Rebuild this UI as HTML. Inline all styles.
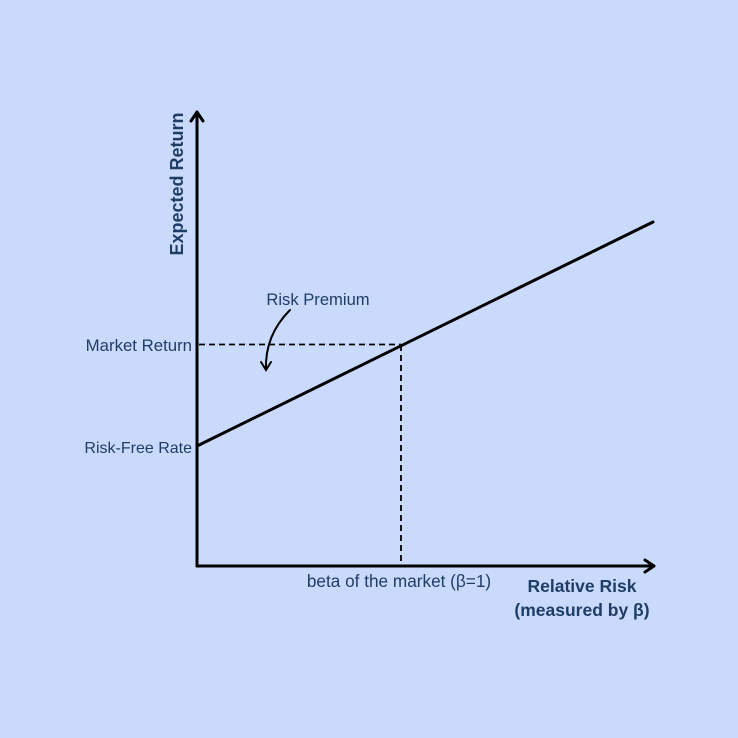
<!DOCTYPE html>
<html><head><style>
body{margin:0;background:#c9dafc;}
svg{display:block}
text{font-family:"Liberation Sans",sans-serif;fill:#1f3d66}
</style></head><body>
<svg width="738" height="738" viewBox="0 0 738 738">
<rect width="738" height="738" fill="#c9dafc"/>
<g stroke="#000" fill="none" stroke-width="3" stroke-linecap="round" stroke-linejoin="round">
<line x1="197" y1="566" x2="197" y2="113"/>
<polyline points="191,121 197,112 203,121"/>
<line x1="197" y1="566" x2="653" y2="566"/>
<polyline points="645,560 654,566 645,572"/>
<line x1="197" y1="446" x2="653" y2="222"/>
</g>
<g stroke="#000" stroke-width="1.8" stroke-dasharray="6,4" fill="none">
<line x1="199" y1="344.5" x2="401" y2="344.5"/>
<line x1="401" y1="345" x2="401" y2="566"/>
</g>
<g stroke="#000" stroke-width="2" fill="none" stroke-linecap="round">
<path d="M290,310 C275,325 265,345 266,370"/>
<polyline points="261,362 266,370 271,362"/>
</g>
<text x="192" y="351" font-size="16.8" text-anchor="end">Market Return</text>
<text x="192" y="453" font-size="16" text-anchor="end">Risk-Free Rate</text>
<text x="318" y="305" font-size="16.6" text-anchor="middle">Risk Premium</text>
<text x="399" y="587" font-size="17.2" text-anchor="middle">beta of the market (β=1)</text>
<text x="582" y="592" font-size="17.5" font-weight="bold" text-anchor="middle">Relative Risk</text>
<text x="582" y="616" font-size="17.5" font-weight="bold" text-anchor="middle">(measured by β)</text>
<text transform="translate(183,184) rotate(-90)" font-size="18" font-weight="bold" text-anchor="middle">Expected Return</text>
</svg>
</body></html>
